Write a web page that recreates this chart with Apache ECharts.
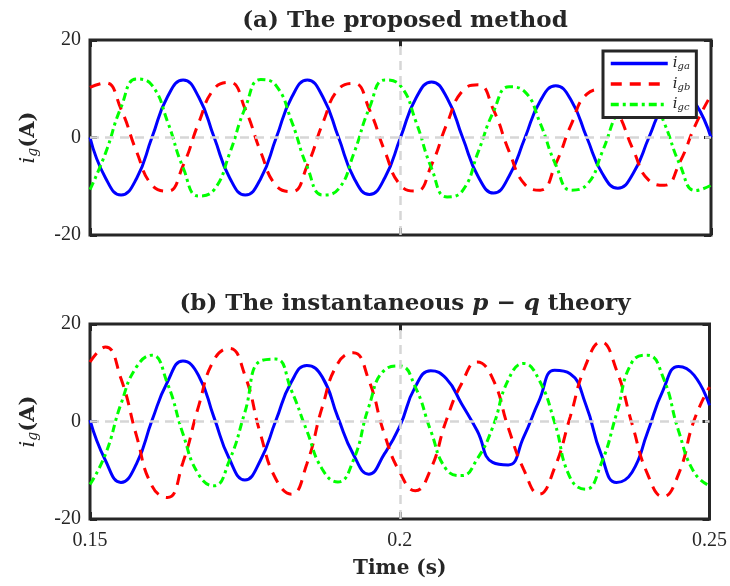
<!DOCTYPE html>
<html>
<head>
<meta charset="utf-8">
<script src="https://cdn.jsdelivr.net/npm/echarts@6/dist/echarts.min.js"></script>
<style>
html,body{margin:0;padding:0;background:#fff;}
#c{width:730px;height:586px;}
</style>
</head>
<body>
<div id="c"></div>
<script>
// time samples (s)
var time = [0.15,0.1525,0.155,0.1575,0.16,0.1625,0.165,0.1675,0.17,0.1725,
  0.175,0.1775,0.18,0.1825,0.185,0.1875,0.19,0.1925,0.195,0.1975,
  0.2,0.2025,0.205,0.2075,0.21,0.2125,0.215,0.2175,0.22,0.2225,
  0.225,0.2275,0.23,0.2325,0.235,0.2375,0.24,0.2425,0.245,0.2475,0.25];

// (a) The proposed method
var igaA = [0,-8.3,-11.8,-8.4,0.1,8.4,11.8,8.3,0,-8.3,
  -11.8,-8.4,0,8.3,11.8,8.3,0.1,-8.3,-11.7,-8.2,
  0,8.1,11.4,8.1,0,-8.0,-11.4,-7.9,-0.2,7.5,
  10.6,7.6,0,-7.4,-10.4,-7.3,0,7.1,10.1,7.0,0];
var igbA = [10.3,11.2,5.8,-2.9,-9.8,-11.0,-5.7,3.0,10.0,11.3,
  5.8,-3.0,-9.9,-11.1,-5.7,3.0,9.9,11.1,5.7,-2.9,
  -9.8,-11.0,-5.6,2.9,9.6,10.8,5.6,-2.9,-9.6,-10.8,
  -5.4,2.7,8.9,9.9,5.1,-2.6,-8.8,-9.8,-5.0,2.6,8.7];
var igcA = [-10.7,-3.2,6.2,12.0,10.7,3.2,-6.2,-12.0,-10.7,-3.2,
  6.1,11.9,10.6,3.2,-6.1,-11.8,-10.6,-3.2,6.1,11.8,
  10.6,3.2,-6.3,-12.2,-10.9,-3.0,5.4,10.4,9.4,2.9,
  -5.6,-10.8,-9.7,-2.9,5.5,10.6,9.5,2.9,-5.6,-10.9,-9.8];

// (b) The instantaneous p-q theory
var igaB = [0.3,-8.0,-12.5,-8.7,0.2,8.1,12.4,9.5,0.9,-7.7,
  -12.0,-8.0,0.2,8.1,11.5,9.1,0.9,-6.7,-10.8,-6.7,
  -1.0,7.1,10.4,8.8,3.6,-1.9,-8.4,-8.9,-3.2,4.3,
  10.5,9.8,3.6,-6.7,-12.5,-10.4,-2.2,6.4,11.3,9.5,3.3];
var igbB = [12.2,15.3,8.8,-2.9,-13.2,-15.6,-8.4,3.0,12.6,15.0,
  9.5,-2.5,-11.8,-14.9,-8.7,3.0,11.9,14.1,8.5,-2.5,
  -10.4,-14.2,-9.8,0.2,7.8,12.2,8.8,-1.2,-9.8,-14.9,
  -9.5,0.9,11.5,16.3,10.5,-0.5,-10.8,-15.4,-10.8,0.2,7.1];
var igcB = [-12.9,-6.7,3.6,11.2,13.6,7.8,-2.5,-10.8,-13.2,-8.0,
  1.9,12.4,12.8,6.4,-1.9,-9.8,-12.4,-8.0,3.0,10.5,
  11.4,7.1,-1.9,-9.8,-11.1,-7.7,-1.2,8.5,11.9,8.5,
  -0.2,-11.5,-13.9,-8.7,1.6,12.2,13.6,9.1,-1.9,-10.4,-13.2];

var xTicks = [0.15, 0.2, 0.25];
var yTicks = [-20, 0, 20];
var legendNames = ['i_ga', 'i_gb', 'i_gc'];

function pairs(v){ return time.map(function(t,i){ return [t, v[i]]; }); }

var dark = '#262626';
var serif = 'Liberation Serif';
var wideSerif = 'DejaVu Serif';

var styles = [
  {color:'#0000ff', type:'solid'},
  {color:'#ff0000', type:[11,8]},
  {color:'#00ff00', type:[8,4,3,4]}
];

var grids = [
  {left:90, top:40, width:621, height:195, show:true, borderColor:dark, borderWidth:3, backgroundColor:'#fff'},
  {left:90, top:324, width:621, height:195, show:true, borderColor:dark, borderWidth:3, backgroundColor:'#fff'}
];

function xAx(gi, pos, labels){
  return {
    type:'value', gridIndex:gi, position:pos, min:xTicks[0], max:xTicks[2], interval:0.05,
    axisLine:{show:false, onZero:false},
    axisTick:{show:true, inside:true, length:7, lineStyle:{color:dark, width:3}},
    axisLabel:{show:labels, color:dark, fontFamily:serif, fontSize:20, margin:12,
      formatter:function(v){ return String(+v.toFixed(2)); }},
    splitLine:{show:false},
    name: (labels ? 'Time (s)' : ''),
    nameLocation:'middle', nameGap:40,
    nameTextStyle:{color:dark, fontFamily:wideSerif, fontWeight:'bold', fontSize:20}
  };
}
function yAx(gi, pos){
  var left = pos==='left';
  return {
    type:'value', gridIndex:gi, position:pos, min:yTicks[0], max:yTicks[2], interval:20,
    axisLine:{show:false, onZero:false},
    axisTick:{show:true, inside:true, length:7, lineStyle:{color:dark, width:3}},
    axisLabel:{show:left, color:dark, fontFamily:serif, fontSize:20, margin:9},
    splitLine:{show:false},
    name: left ? '{i|i}{s|g}{b|(A)}' : '',
    nameLocation:'middle', nameGap:50, nameRotate:90,
    nameTextStyle:{
      color:dark,
      rich:{
        i:{fontFamily:wideSerif, fontStyle:'italic', fontSize:21, color:dark},
        s:{fontFamily:wideSerif, fontStyle:'italic', fontSize:14, color:dark, verticalAlign:'bottom', padding:[8,0,0,0]},
        b:{fontFamily:wideSerif, fontWeight:'bold', fontSize:21, color:dark}
      }
    }
  };
}

var series = [];
[0,1].forEach(function(gi){
  // dashed grid lines at the middle ticks, drawn beneath the curves
  series.push({
    type:'line', name:'grid'+gi, xAxisIndex:gi*2, yAxisIndex:gi*2, data:[], silent:true,
    z:1,
    markLine:{
      silent:true, symbol:'none', label:{show:false}, animation:false,
      lineStyle:{color:'#d6d6d6', width:2.5, type:[9,6]},
      data:[{xAxis:xTicks[1]}, {yAxis:yTicks[1]}]
    }
  });
});
[[igaA,igbA,igcA],[igaB,igbB,igcB]].forEach(function(set, gi){
  set.forEach(function(v, si){
    series.push({
      type:'line', name:legendNames[si], xAxisIndex:gi*2, yAxisIndex:gi*2,
      data:pairs(v), smooth:0.5, symbol:'none', silent:true, animation:false,
      lineStyle:{color:styles[si].color, width:3, type:styles[si].type},
      itemStyle:{color:styles[si].color},
      z:3
    });
  });
});

var titleRich = {
  b:{fontFamily:wideSerif, fontWeight:'bold', fontSize:23, color:dark},
  it:{fontFamily:wideSerif, fontStyle:'italic', fontSize:23, color:dark}
};

var option = {
  animation:false,
  backgroundColor:'#fff',
  title:[
    {text:'{b|(a) The proposed method}', left:400, top:5, textAlign:'center', textStyle:{rich:titleRich}},
    {text:'{b|(b) The instantaneous }{it|p − q}{b| theory}', left:400, top:288, textAlign:'center', textStyle:{rich:titleRich}}
  ],
  grid:grids,
  xAxis:[xAx(0,'bottom',false), xAx(0,'top',false), xAx(1,'bottom',true), xAx(1,'top',false)],
  yAxis:[yAx(0,'left'), yAx(0,'right'), yAx(1,'left'), yAx(1,'right')],
  legend:{
    data:legendNames.map(function(n){ return {name:n}; }),
    orient:'vertical', left:603, top:51,
    itemWidth:57, itemHeight:14, itemGap:5,
    backgroundColor:'#fff', borderColor:dark, borderWidth:3, padding:[5,6,5,6],
    selectedMode:false,
    itemStyle:{color:'rgba(0,0,0,0)', borderColor:'rgba(0,0,0,0)', borderWidth:0},
    lineStyle:{width:3.5},
    formatter:function(n){ return '{i|i}{s|' + n.split('_')[1] + '}'; },
    textStyle:{
      rich:{
        i:{fontFamily:wideSerif, fontStyle:'italic', fontSize:15, color:dark},
        s:{fontFamily:wideSerif, fontStyle:'italic', fontSize:10, color:dark, verticalAlign:'bottom', padding:[6,0,0,0]}
      }
    }
  },
  series:series
};

var chart = echarts.init(document.getElementById('c'), null, {renderer:'canvas'});
chart.setOption(option);
</script>
</body>
</html>
